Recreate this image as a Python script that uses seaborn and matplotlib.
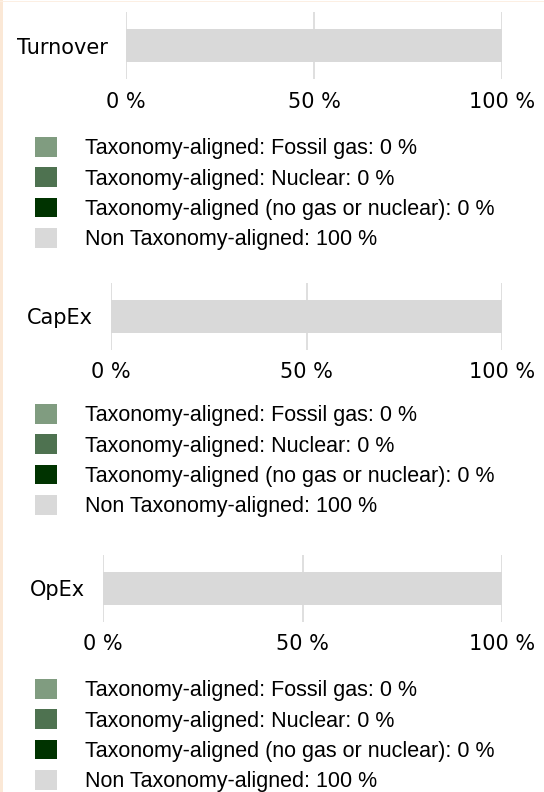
import numpy as np
import pandas as pd
import seaborn as sns
import matplotlib.pyplot as plt
from matplotlib.patches import Patch, Rectangle

W, H = 544, 792

kpis = ['Turnover', 'CapEx', 'OpEx']
categories = ['Taxonomy-aligned: Fossil gas', 'Taxonomy-aligned: Nuclear',
              'Taxonomy-aligned (no gas or nuclear)', 'Non Taxonomy-aligned']
colors = ['#809c80', '#4e7250', '#003300', '#d9d9d9']

fossil_gas = [0, 0, 0]
nuclear = [0, 0, 0]
aligned_other = [0, 0, 0]
non_aligned = [100, 100, 100]

ticks = [0, 50, 100]
tick_labels = ['0 %', '50 %', '100 %']

# axes boxes in pixels: left, top, right, bottom
boxes = [(126, 12, 502, 79), (111, 283, 502, 350), (103, 555, 502, 622)]
legend_pos = [(35, 137), (35, 404), (35, 679)]

sns.set_style('white')
plt.rcParams['text.color'] = 'black'
plt.rcParams['xtick.color'] = 'black'
plt.rcParams['ytick.color'] = 'black'
fig = plt.figure(figsize=(W / 100, H / 100), dpi=100)

# light page border
fig.patches.append(Rectangle((0, 0), 3 / W, 1, transform=fig.transFigure,
                             color='#fbe8d6', lw=0, zorder=0))
fig.patches.append(Rectangle((0, 1 - 2 / H), 1, 1 / H, transform=fig.transFigure,
                             color='#fcefe3', lw=0, zorder=0))

for i, kpi in enumerate(kpis):
    l, t, r, b = boxes[i]
    ax = fig.add_axes([l / W, 1 - b / H, (r - l) / W, (b - t) / H])
    vals = [fossil_gas[i], nuclear[i], aligned_other[i], non_aligned[i]]
    cum = np.cumsum(vals)
    df = pd.DataFrame({'kpi': [kpi] * 4, 'cat': categories, 'cum': cum})
    # stacked bar: draw cumulative totals from the outermost inwards
    for j in range(3, -1, -1):
        sns.barplot(data=df.iloc[[j]], x='cum', y='kpi', orient='h',
                    color=colors[j], width=0.5, saturation=1, linewidth=0,
                    ax=ax, zorder=2)
    ax.set_xlim(0, 100)
    ax.set_xticks(ticks)
    ax.set_xticklabels(tick_labels, fontsize=15)
    ax.tick_params(axis='x', length=0, pad=9)
    ax.tick_params(axis='y', length=0, pad=13, labelsize=15)
    ax.set_xlabel('')
    ax.set_ylabel('')
    ax.grid(axis='x', color='#dcdcdc', lw=1.3)
    ax.set_axisbelow(True)
    sns.despine(ax=ax, left=True, bottom=True)

    handles = [Patch(facecolor=c, edgecolor='none') for c in colors]
    labels = [f'{c}: {v} %' for c, v in zip(categories, vals)]
    x0, y0 = legend_pos[i]
    fig.legend(handles, labels, loc='upper left',
               bbox_to_anchor=(x0 / W, 1 - y0 / H), frameon=False,
               prop={'family': 'Liberation Sans', 'size': 15.5},
               handlelength=1.02, handleheight=1.02, handletextpad=1.3,
               labelspacing=0.385, borderpad=0, borderaxespad=0)

fig.savefig('out.png', dpi=100)
